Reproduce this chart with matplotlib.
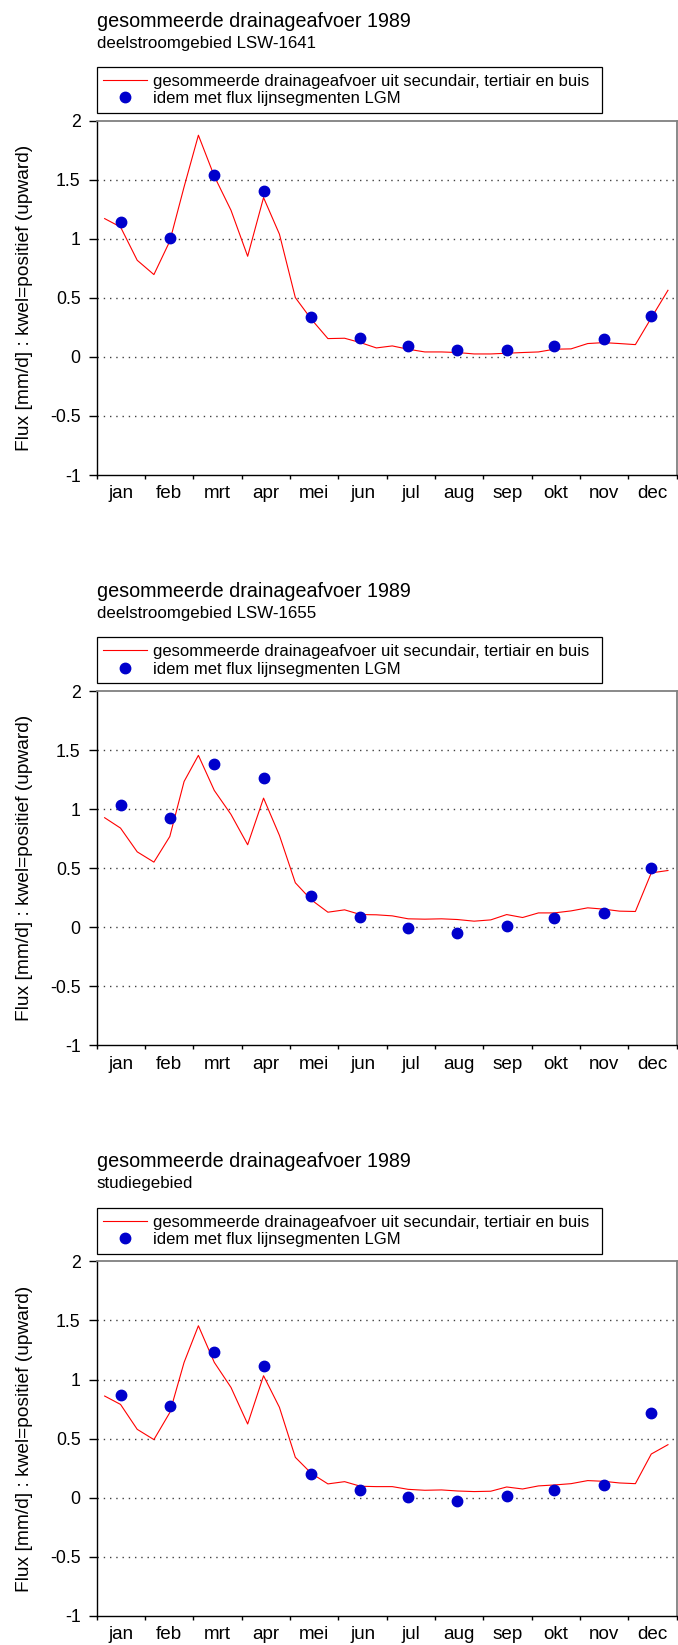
import numpy as np
import matplotlib
matplotlib.use("Agg")
import matplotlib.pyplot as plt
from matplotlib.lines import Line2D

plt.rcParams['font.family'] = ['Liberation Sans', 'DejaVu Sans']

# month labels and lengths (1989, no leap year)
months = ['jan', 'feb', 'mrt', 'apr', 'mei', 'jun', 'jul', 'aug', 'sep', 'okt', 'nov', 'dec']
month_days = [31, 28, 31, 30, 31, 30, 31, 31, 30, 31, 30, 31]

titles = ['deelstroomgebied LSW-1641', 'deelstroomgebied LSW-1655', 'studiegebied']

# decade (10-day) summed drainage, 36 values per area [mm/d]
drain_1641 = [1.171, 1.10, 0.818, 0.697, 0.98, 1.44, 1.877, 1.53, 1.242, 0.852, 1.349, 1.039,
              0.502, 0.32, 0.155, 0.158, 0.121, 0.076, 0.093, 0.065, 0.042, 0.042, 0.037, 0.025,
              0.025, 0.031, 0.037, 0.042, 0.065, 0.068, 0.113, 0.121, 0.113, 0.104, 0.33, 0.564]
drain_1655 = [0.927, 0.839, 0.638, 0.551, 0.768, 1.234, 1.455, 1.158, 0.955, 0.698, 1.093, 0.777,
              0.376, 0.232, 0.127, 0.147, 0.107, 0.105, 0.096, 0.071, 0.068, 0.071, 0.065, 0.051,
              0.062, 0.107, 0.082, 0.121, 0.121, 0.138, 0.164, 0.153, 0.136, 0.133, 0.46, 0.48]
drain_studie = [0.860, 0.789, 0.578, 0.491, 0.72, 1.145, 1.455, 1.145, 0.933, 0.623, 1.032, 0.764,
                0.341, 0.206, 0.116, 0.135, 0.096, 0.093, 0.093, 0.070, 0.062, 0.065, 0.056, 0.051,
                0.054, 0.090, 0.073, 0.099, 0.107, 0.118, 0.144, 0.138, 0.124, 0.118, 0.369, 0.448]

# monthly values with flux of LGM line segments [mm/d]
lgm_1641 = [1.143, 1.01, 1.54, 1.403, 0.339, 0.158, 0.096, 0.062, 0.062, 0.093, 0.152, 0.347]
lgm_1655 = [1.031, 0.927, 1.384, 1.266, 0.266, 0.085, -0.006, -0.048, 0.011, 0.082, 0.121, 0.50]
lgm_studie = [0.868, 0.778, 1.232, 1.111, 0.200, 0.065, 0.008, -0.028, 0.011, 0.065, 0.107, 0.716]

drains = [drain_1641, drain_1655, drain_studie]
lgms = [lgm_1641, lgm_1655, lgm_studie]

# centre day of each decade, converted to month units on the x axis
starts = np.cumsum([0] + month_days[:-1])
dec_days = []
for s, n in zip(starts, month_days):
    dec_days += [s + 5, s + 15, s + (21 + n) / 2 - 0.5]
x_dec = np.array(dec_days) * 12 / 365.0
x_mon = x_dec[1::3]

W, H = 678, 1645
fig = plt.figure(figsize=(W / 100, H / 100), dpi=100)

ax_left, ax_w, ax_h = 96.7, 580.0, 354.3
bottoms = [475.0, 1045.3, 1615.7]

red = '#ff0000'
blue = '#0000cc'
lab1 = 'gesommeerde drainageafvoer uit secundair, tertiair en buis'
lab2 = 'idem met flux lijnsegmenten LGM'

for sub, drain, lgm, b in zip(titles, drains, lgms, bottoms):
    ax = fig.add_axes([ax_left / W, 1 - b / H, ax_w / W, ax_h / H])
    ax.plot(x_dec, drain, color=red, lw=0.8, zorder=3)
    ax.plot(x_mon, lgm, 'o', color=blue, ms=7.5, mec=blue, zorder=4)

    ax.set_xlim(0, 12)
    ax.set_ylim(-1, 2)
    ax.set_yticks(np.arange(-1, 2.01, 0.5))
    ax.set_yticklabels(['%g' % v for v in np.arange(-1, 2.01, 0.5)])
    ax.set_xticks(np.arange(0, 13))
    ax.set_xticklabels([])
    ax.set_xticks(np.arange(12) + 0.5, minor=True)
    ax.set_xticklabels(months, minor=True)
    ax.tick_params(axis='y', length=6, width=1, direction='out', pad=5.5, labelsize=12.8)
    ax.tick_params(axis='x', which='major', length=3, width=1, direction='out')
    ax.tick_params(axis='x', which='minor', length=0, pad=7.5, labelsize=13.6)

    for v in [-0.5, 0, 0.5, 1, 1.5]:
        ax.axhline(v, color='#404040', lw=1.0, ls=(0, (1, 3.5)), zorder=1)

    for side in ['left', 'bottom']:
        ax.spines[side].set_color('black')
        ax.spines[side].set_linewidth(1.0)
    for side in ['top', 'right']:
        ax.spines[side].set_color('#808080')
        ax.spines[side].set_linewidth(1.3)

    ax.set_ylabel('Flux [mm/d] : kwel=positief (upward)', fontsize=13.8)
    ax.yaxis.set_label_coords(-0.1253, 0.5)
    ax.yaxis.label.set_verticalalignment('center')

    ax.text(0, 1 + 94 / ax_h, 'gesommeerde drainageafvoer 1989', transform=ax.transAxes,
            fontsize=14.2, va='baseline', ha='left')
    ax.text(0, 1 + 73 / ax_h, sub, transform=ax.transAxes,
            fontsize=12.2, va='baseline', ha='left')

    handles = [Line2D([], [], color=red, lw=0.8),
               Line2D([], [], marker='o', ls='none', color=blue, ms=7.5)]
    leg = ax.legend(handles, [lab1, lab2], loc='lower left',
                    bbox_to_anchor=(0, 1 + 7.7 / ax_h, 505 / ax_w, 0.1), mode='expand',
                    borderaxespad=0, fontsize=12, handlelength=2.6, handletextpad=0.4,
                    borderpad=0.4, labelspacing=0.15, fancybox=False, framealpha=1,
                    edgecolor='black', numpoints=1)
    leg.get_frame().set_linewidth(0.9)

fig.savefig('out.png', dpi=100)
